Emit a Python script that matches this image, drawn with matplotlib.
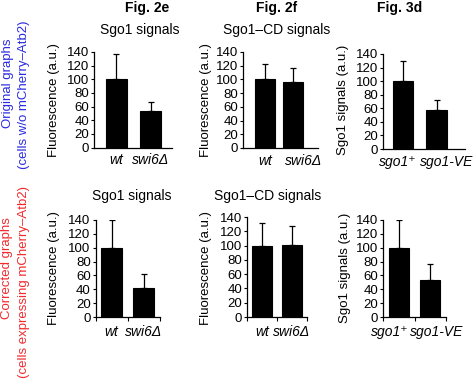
import numpy as np
import matplotlib
matplotlib.use("Agg")
import matplotlib.pyplot as plt

plt.rcParams['font.family'] = ['Liberation Sans', 'DejaVu Sans']

W, H = 474, 379

# categories
cats_swi6 = ["wt", "swi6\u0394"]
cats_sgo1 = ["sgo1\u207a", "sgo1-VE"]

# original graphs (cells w/o mCherry-Atb2)
orig_2e_mean = [100, 53]
orig_2e_err = [37, 13]
orig_2f_mean = [100, 96]
orig_2f_err = [22, 21]
orig_3d_mean = [100, 57]
orig_3d_err = [30, 15]

# corrected graphs (cells expressing mCherry-Atb2)
corr_2e_mean = [100, 42]
corr_2e_err = [40, 20]
corr_2f_mean = [100, 101]
corr_2f_err = [32, 26]
corr_3d_mean = [100, 53]
corr_3d_err = [40, 23]

yticks = [0, 20, 40, 60, 80, 100, 120, 140]


def fx(x):
    return x / W


def fy(y):
    return 1 - y / H


fig = plt.figure(figsize=(W / 100, H / 100), dpi=100)


def panel(box, xlim, width, cats, mean, err, xticks_on, label_pos=None):
    l, r, t, b = box
    ax = fig.add_axes([fx(l), fy(b), fx(r) - fx(l), fy(t) - fy(b)])
    x = np.arange(len(mean))
    ax.bar(x, mean, width=width, color="black", edgecolor="black", linewidth=0.8, zorder=2)
    ax.errorbar(x, mean, yerr=[np.zeros(len(err)), err], fmt="none", ecolor="black",
                elinewidth=0.9, capsize=2, capthick=0.9, zorder=3)
    ax.set_xlim(*xlim)
    ax.set_ylim(0, 140)
    ax.set_yticks(yticks)
    ax.tick_params(axis="y", direction="out", length=2.5, width=0.8, pad=1, labelsize=9.5)
    # labels sit a little apart from the bar centres when they are long
    ax.set_xticks(x if label_pos is None else label_pos)
    ax.set_xticklabels(cats, style="italic", fontsize=10)
    ax.tick_params(axis="x", length=0, pad=6 if xticks_on else 4)
    if xticks_on:
        ax.set_xticks([-0.5, 0.5, 1.5], minor=True)
        ax.tick_params(axis="x", which="minor", direction="out", length=3, width=0.8)
    for s in ["top", "right"]:
        ax.spines[s].set_visible(False)
    for s in ["left", "bottom"]:
        ax.spines[s].set_linewidth(0.9)
    return ax


panel((94, 172, 52, 147.5), (-0.66, 1.63), 0.62, cats_swi6, orig_2e_mean, orig_2e_err, False)
panel((243, 318, 52, 148), (-0.79, 1.89), 0.71, cats_swi6, orig_2f_mean, orig_2f_err, False,
      label_pos=[0, 1.36])
panel((383, 465, 54, 149), (-0.6, 1.85), 0.61, cats_sgo1, orig_3d_mean, orig_3d_err, False,
      label_pos=[-0.15, 1.31])
panel((95.5, 159.5, 220, 317), (-0.5, 1.5), 0.66, cats_swi6, corr_2e_mean, corr_2e_err, True)
panel((247, 307, 217, 317), (-0.5, 1.5), 0.67, cats_swi6, corr_2f_mean, corr_2f_err, True)
panel((383, 446, 220, 317), (-0.5, 1.5), 0.63, cats_sgo1, corr_3d_mean, corr_3d_err, True,
      label_pos=[-0.27, 1.21])

# figure headers
for lab, xc in [("Fig. 2e", 147), ("Fig. 2f", 277), ("Fig. 3d", 400)]:
    fig.text(fx(xc), fy(8), lab, ha="center", va="center", fontsize=10, fontweight="bold")

# panel titles
for lab, xc, yc in [("Sgo1 signals", 140, 30), ("Sgo1\u2013CD signals", 277, 30),
                    ("Sgo1 signals", 132, 196), ("Sgo1\u2013CD signals", 268, 196)]:
    fig.text(fx(xc), fy(yc), lab, ha="center", va="center", fontsize=10)

# y labels
for lab, xc, yc in [("Fluorescence (a.u.)", 54, 100), ("Fluorescence (a.u.)", 206, 100),
                    ("Sgo1 signals (a.u.)", 343, 100), ("Fluorescence (a.u.)", 54, 268),
                    ("Fluorescence (a.u.)", 206, 268), ("Sgo1 signals (a.u.)", 345, 268)]:
    fig.text(fx(xc), fy(yc), lab, ha="center", va="center", rotation=90, fontsize=9.5)

# row labels
blue = "#2a2ae0"
red = "#f02a2e"
fig.text(fx(8), fy(83), "Original graphs", color=blue, rotation=90, ha="center", va="center", fontsize=9.5)
fig.text(fx(24), fy(95), "(cells w/o mCherry\u2013Atb2)", color=blue, rotation=90, ha="center", va="center", fontsize=9.5)
fig.text(fx(7), fy(268), "Corrected graphs", color=red, rotation=90, ha="center", va="center", fontsize=9.5)
fig.text(fx(24), fy(282), "(cells expressing mCherry\u2013Atb2)", color=red, rotation=90, ha="center", va="center", fontsize=9.5)

fig.savefig("out.png", dpi=100)
